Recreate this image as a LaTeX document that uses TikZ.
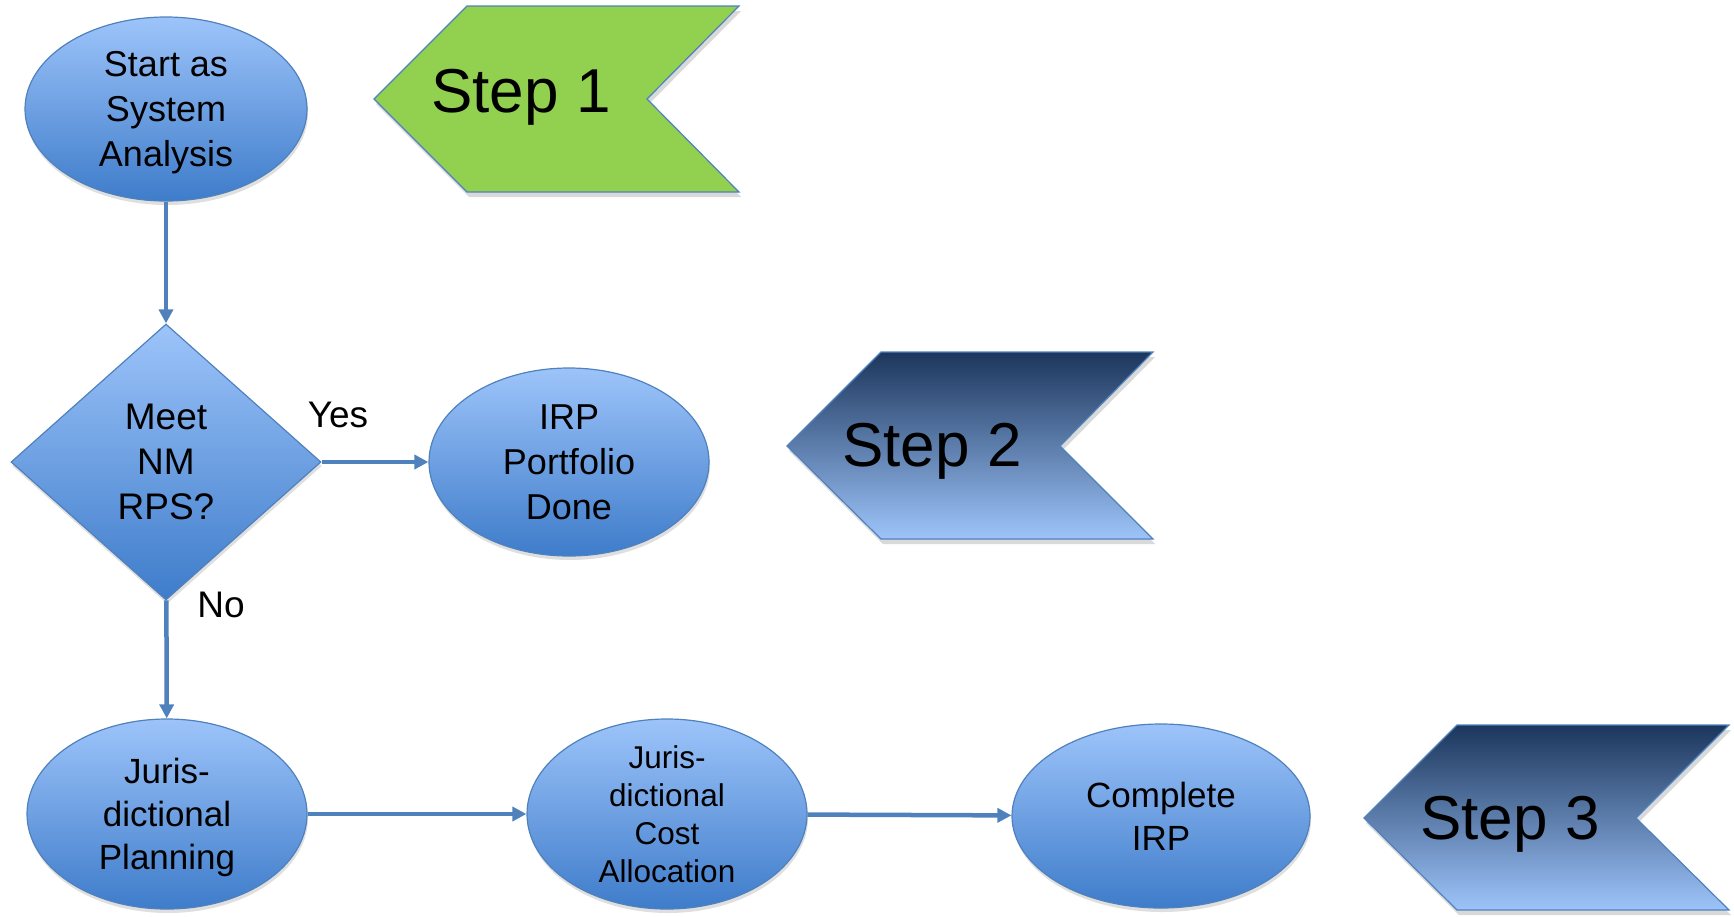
\documentclass[tikz,border=0pt]{standalone}
\usepackage{fontspec}
\setmainfont{Liberation Sans}
\usetikzlibrary{shapes.geometric,arrows.meta,shadows,positioning}

\definecolor{lineblue}{RGB}{79,129,189}
\definecolor{ovaltop}{RGB}{157,196,250}
\definecolor{ovalbot}{RGB}{62,124,202}
\definecolor{stepgreen}{RGB}{146,208,80}
\definecolor{stepnavy}{RGB}{28,54,92}
\definecolor{steplight}{RGB}{157,196,250}

\tikzstyle{oval} = [ellipse, draw=lineblue, line width=1.2pt, top color=ovaltop, bottom color=ovalbot, minimum width=280pt, minimum height=188pt, inner sep=-10pt, align=center, font=\fontsize{36}{45}\selectfont, drop shadow={shadow xshift=1pt, shadow yshift=-4pt, opacity=0.25}]
\tikzstyle{decision} = [diamond, draw=lineblue, line width=1.2pt, top color=ovaltop, bottom color=ovalbot, minimum width=310pt, minimum height=276pt, inner sep=0pt, align=center, font=\fontsize{37}{45}\selectfont, drop shadow={shadow xshift=1pt, shadow yshift=-4pt, opacity=0.25}]
\tikzstyle{arrow} = [line width=4.5pt, draw=lineblue, -{Triangle[length=14pt,width=14pt]}]
\tikzstyle{chevron} = [draw=lineblue, line width=1.2pt, drop shadow={shadow xshift=2pt, shadow yshift=-5pt, opacity=0.3}]
\tikzstyle{steplabel} = [font=\fontsize{62}{70}\selectfont, text depth=0pt]
\tikzstyle{answer} = [font=\fontsize{37}{45}\selectfont]

\begin{document}
\begin{tikzpicture}[x = 1pt, y = -1pt]

\useasboundingbox (0,0) rectangle (1734,916);

% ----------------------------------------------------

% step banners
\draw[chevron, fill=stepgreen] (374,99) -- (467,6) -- (739,6) -- (647,99) -- (739,192) -- (467,192) -- cycle;
\node (step1) [steplabel] at (521,91) {Step 1};

\draw[chevron, top color=stepnavy, bottom color=steplight] (787,446) -- (881,352) -- (1153,352) -- (1060,446) -- (1153,539) -- (881,539) -- cycle;
\node (step2) [steplabel] at (932,445) {Step 2};

\draw[chevron, top color=stepnavy, bottom color=steplight] (1364,818) -- (1457,725) -- (1729,725) -- (1636,818) -- (1729,910) -- (1457,910) -- cycle;
\node (step3) [steplabel] at (1510,818) {Step 3};

% ----------------------------------------------------

  \node (start) [oval, minimum width=282pt, minimum height=184pt, text depth=-3pt] at (166,109) {
    Start as \\ System \\ Analysis
  };
  \node (meet) [decision] at (166,462) {
    Meet \\ NM \\ RPS?
  };
  \node (irp) [oval, text depth=0pt] at (569,462) {
    IRP \\ Portfolio \\ Done
  };
  \node (planning) [oval, minimum height=190pt, text depth=0pt, font=\fontsize{35}{43}\selectfont] at (167,814) {
    Juris- \\ dictional \\ Planning
  };
  \node (cost) [oval, minimum height=190pt, font=\fontsize{31.5}{38}\selectfont] at (667,814) {
    Juris- \\ dictional \\ Cost \\ Allocation
  };
  \node (complete) [oval, minimum width=298pt, minimum height=184pt, font=\fontsize{35}{43}\selectfont] at (1161,816) {
    Complete \\ IRP
  };

  \draw[arrow] (start) -- (meet);
  \draw[arrow] (meet) -- (irp);
  \draw[arrow] (meet) -- (planning);
  \draw[arrow] (planning) -- (cost);
  \draw[arrow] (cost) -- (complete);

  \node (yes) [answer] at (338,415) {Yes};
  \node (no) [answer] at (221,605) {No};

\end{tikzpicture}
\end{document}
